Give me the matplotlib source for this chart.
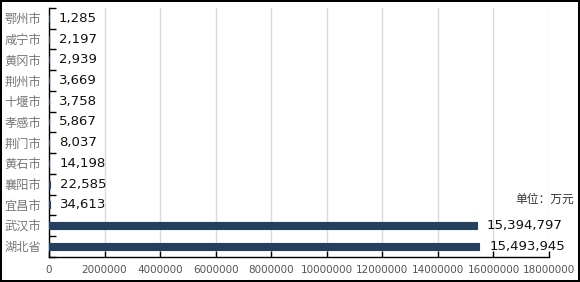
import matplotlib
matplotlib.use("Agg")
import matplotlib.pyplot as plt
import numpy as np

plt.rcParams['font.family'] = ['Noto Sans CJK SC', 'DejaVu Sans']

categories = ["鄂州市", "咸宁市", "黄冈市", "荆州市", "十堰市", "孝感市", "荆门市", "黄石市", "襄阳市", "宜昌市", "武汉市", "湖北省"]
values = [1285, 2197, 2939, 3669, 3758, 5867, 8037, 14198, 22585, 34613, 15394797, 15493945]
xticks = list(range(0, 18000001, 2000000))

fig = plt.figure(figsize=(5.8, 2.82), dpi=100)
fig.patch.set_edgecolor('black')
fig.patch.set_linewidth(1.5)
ax = fig.add_axes([49/580, 1-256.7/282, 500/580, (256.7-8)/282])

y = np.arange(len(categories))
ax.barh(y, values, height=0.33, color='#253f5e', edgecolor='#253f5e', linewidth=0.8, zorder=3)
ax.set_ylim(len(categories)-0.5, -0.5)
ax.set_xlim(0, 18000000)
ax.set_yticks(y)
ax.set_yticklabels(categories, color='#777777', fontsize=8.8, family=['Noto Sans CJK SC'])
ax.set_yticks(np.arange(-0.5, len(categories)), minor=True)
ax.tick_params(axis='y', which='major', length=0, pad=5.5)
ax.tick_params(axis='y', which='minor', length=5, direction='in', width=1)
ax.set_xticks(xticks)
ax.set_xticklabels([str(v) for v in xticks], color='#555555', fontsize=7.5, family=['DejaVu Sans'])
ax.tick_params(axis='x', length=4, direction='in', pad=6, width=1)
ax.grid(axis='x', color='#d9d9d9', linewidth=1, zorder=0)
for s in ['top', 'right']:
    ax.spines[s].set_visible(False)
for s in ['left', 'bottom']:
    ax.spines[s].set_linewidth(1)
    ax.spines[s].set_color('black')

for yi, v in zip(y, values):
    ax.annotate(f"{v:,}", xy=(v, yi), xytext=(10, 0), textcoords='offset pixels',
                va='center', ha='left', fontsize=9.5, color='#111111', family=['DejaVu Sans'])

fig.text(0.99, 1-199/282, "单位：万元", ha='right', va='center', fontsize=8.5, color='#333333')

fig.savefig('out.png', dpi=100, edgecolor=fig.get_edgecolor())
